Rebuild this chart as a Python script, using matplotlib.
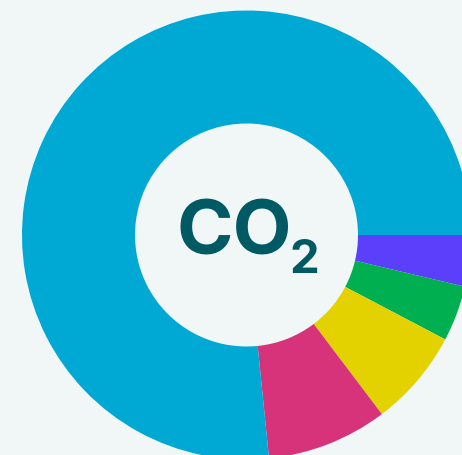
import matplotlib
matplotlib.use("Agg")
import matplotlib.pyplot as plt

# Data (clockwise from 3 o'clock)
labels = ["Segment E", "Segment D", "Segment C", "Segment B", "Segment A"]
values = [3.7, 4.0, 7.0, 8.7, 76.6]
colors = ["#5B3FFB", "#00AF50", "#E4D200", "#D6337A", "#00A8D4"]
center_label = "CO"
center_sub = "2"

W, H = 462, 455
fig = plt.figure(figsize=(W / 100, H / 100), dpi=100)
fig.patch.set_facecolor("#F1F7F7")
ax = fig.add_axes([0, 0, 1, 1])
ax.set_facecolor("#F1F7F7")

cx, cy, r_out = 246.5, 235.0, 224.5
r_in = 111.5
ax.pie(values, colors=colors, startangle=0, counterclock=True,
       center=(cx, cy), radius=r_out, frame=True,
       wedgeprops=dict(width=r_out - r_in, linewidth=0))
ax.set_xlim(0, W)
ax.set_ylim(H, 0)
ax.set_aspect("equal")
ax.axis("off")

ax.text(176, 254.5, center_label, fontsize=55, fontweight="bold",
        family=["Inter", "DejaVu Sans"], color="#005A64",
        ha="left", va="baseline")
ax.text(289, 273, center_sub, fontsize=34, fontweight="bold",
        family=["Inter", "DejaVu Sans"], color="#005A64",
        ha="left", va="baseline")

fig.savefig("out.png", dpi=100, facecolor=fig.get_facecolor())
